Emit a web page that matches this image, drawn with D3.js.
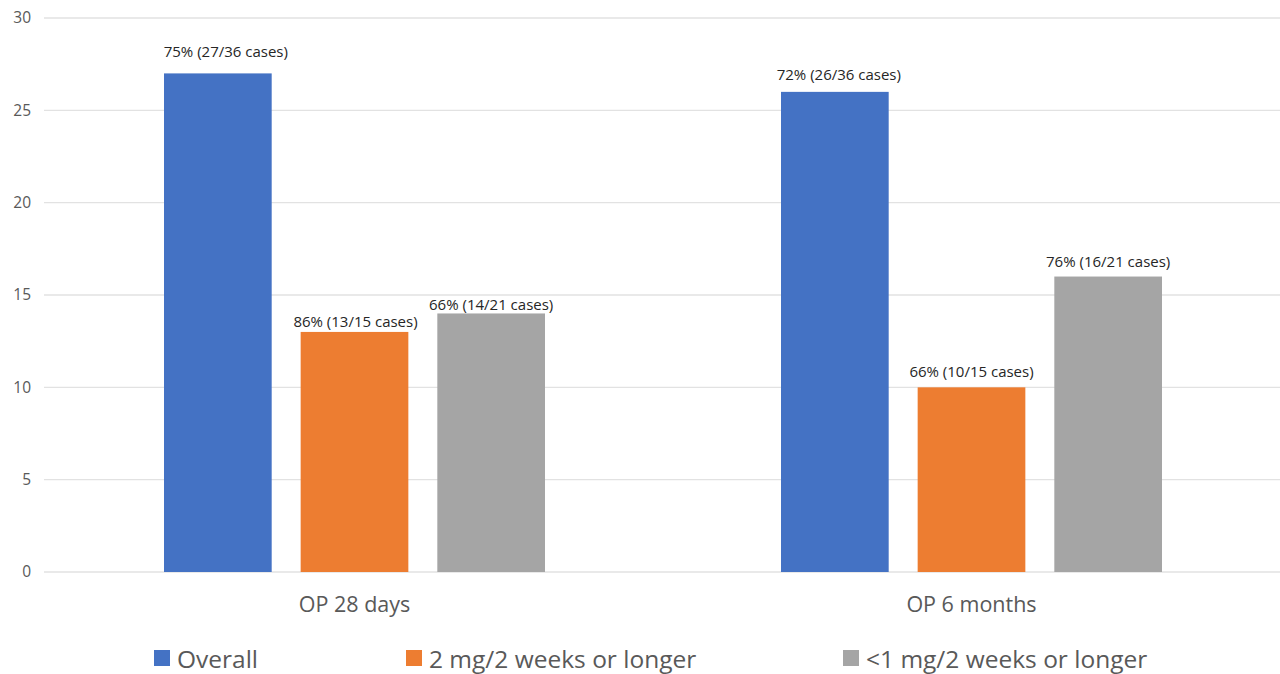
<!DOCTYPE html>
<html>
<head>
<meta charset="utf-8">
<script src="https://cdn.jsdelivr.net/npm/d3@7"></script>
<style>
  html, body { margin: 0; padding: 0; background: #fff; }
  svg { display: block; font-family: "Open Sans", "Noto Sans", sans-serif; }
</style>
</head>
<body>
<svg id="chart" width="1280" height="674"></svg>
<script>
// Follow-up periods (x categories)
const categories = ["OP 28 days", "OP 6 months"];
// Dosage groups (series)
const seriesNames = ["Overall", "2 mg/2 weeks or longer", "<1 mg/2 weeks or longer"];
const seriesColors = ["#4472C4", "#ED7D31", "#A5A5A5"];
// Case counts per series, one value per category
const overallValues = [27, 26];
const twoMgValues = [13, 10];
const lessOneMgValues = [14, 16];
// Data labels per series, one per category
const overallLabels = ["75% (27/36 cases)", "72% (26/36 cases)"];
const twoMgLabels = ["86% (13/15 cases)", "66% (10/15 cases)"];
const lessOneMgLabels = ["66% (14/21 cases)", "76% (16/21 cases)"];
// Y axis ticks
const yTicks = [0, 5, 10, 15, 20, 25, 30];

const seriesValues = [overallValues, twoMgValues, lessOneMgValues];
const seriesLabels = [overallLabels, twoMgLabels, lessOneMgLabels];

// Label placement: [dx, gap above bar top] per series and category
const labelNudge = [
  [[8, 16], [4, 12]],
  [[1, 4.5], [0, 10]],
  [[0, 3.5], [0, 10]]
];

const svg = d3.select("#chart");
const plot = { left: 46, right: 1280, top: 18, bottom: 572 };

const x0 = d3.scaleBand().domain(categories).range([plot.left, plot.right])
  .paddingInner(0).paddingOuter(0);
const groupInset = 118;
const x1 = d3.scaleBand().domain(seriesNames)
  .range([groupInset, x0.bandwidth() - groupInset]).paddingInner(0.212).paddingOuter(0);
const y = d3.scaleLinear().domain([0, 30]).range([plot.bottom, plot.top]);

// Gridlines
svg.append("g").selectAll("line").data(yTicks).join("line")
  .attr("x1", 44).attr("x2", plot.right)
  .attr("y1", d => y(d)).attr("y2", d => y(d))
  .attr("stroke", "#e2e2e2").attr("stroke-width", 1.3);

// Y tick labels
svg.append("g").selectAll("text").data(yTicks).join("text")
  .attr("x", 31).attr("y", d => y(d)).attr("dy", "0.35em")
  .attr("text-anchor", "end").attr("font-size", 15.5).attr("fill", "#595959")
  .text(d => d);

// Bars and their labels
const groups = svg.append("g").selectAll("g").data(categories).join("g")
  .attr("transform", d => `translate(${x0(d)},0)`);

seriesNames.forEach((name, si) => {
  groups.append("rect")
    .attr("x", x1(name))
    .attr("width", x1.bandwidth())
    .attr("y", (d, ci) => y(seriesValues[si][ci]))
    .attr("height", (d, ci) => y(0) - y(seriesValues[si][ci]))
    .attr("fill", seriesColors[si]);
  groups.append("text")
    .attr("x", (d, ci) => x1(name) + x1.bandwidth() / 2 + labelNudge[si][ci][0])
    .attr("y", (d, ci) => y(seriesValues[si][ci]) - labelNudge[si][ci][1])
    .attr("text-anchor", "middle").attr("font-size", 15).attr("fill", "#262626")
    .text((d, ci) => seriesLabels[si][ci]);
});

// Category labels
svg.append("g").selectAll("text").data(categories).join("text")
  .attr("x", d => x0(d) + x0.bandwidth() / 2).attr("y", 612)
  .attr("text-anchor", "middle").attr("font-size", 21.5).attr("fill", "#595959")
  .text(d => d);

// Legend
const legendX = [154, 406, 843];
const legend = svg.append("g").selectAll("g").data(seriesNames).join("g")
  .attr("transform", (d, i) => `translate(${legendX[i]},650)`);
legend.append("rect").attr("width", 16).attr("height", 16)
  .attr("fill", (d, i) => seriesColors[i]);
legend.append("text").attr("x", 23).attr("y", 17.5)
  .attr("font-size", 24.5).attr("fill", "#595959").text(d => d);
</script>
</body>
</html>
